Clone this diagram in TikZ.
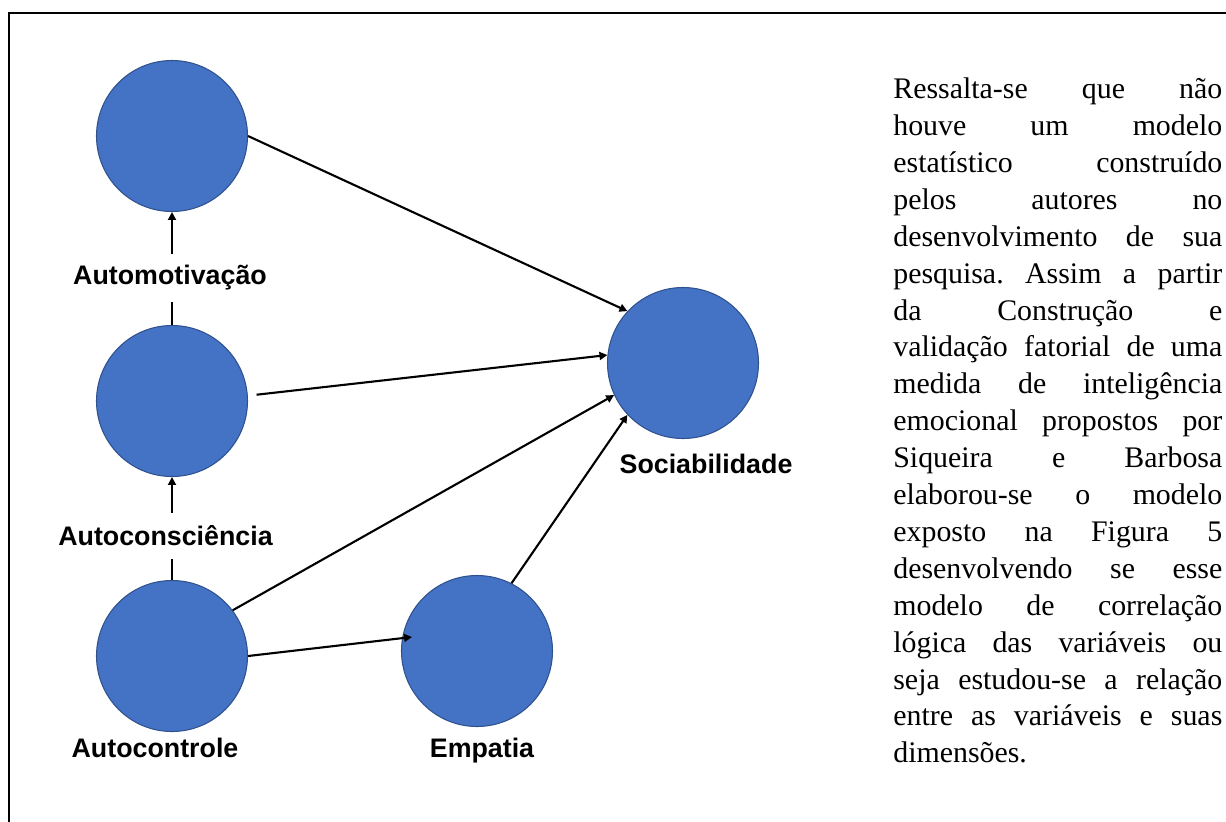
\documentclass[tikz,border=0pt]{standalone}
\usepackage{fontspec}
\setmainfont{Liberation Serif}
\setsansfont{Liberation Sans}
\usepackage{tikz}
\usetikzlibrary{arrows.meta}
\definecolor{CircleColor}{RGB}{68,114,196}
\definecolor{CircleBorder}{RGB}{47,82,143}

\begin{document}
\begin{tikzpicture}[>={Triangle[length=4.5pt,width=4.5pt]},
  var/.style={circle, fill=CircleColor, draw=CircleBorder, line width=0.6pt, minimum size=3.02cm, inner sep=0pt},
  lab/.style={font=\fontsize{15.25}{18}\selectfont\sffamily\bfseries, inner sep=0pt},
  link/.style={->, line width=1.2pt, black}]

  \useasboundingbox (0,0) rectangle (24.52,-16.42);
  \draw[line width=1.3pt] (0.18,-17) -- (0.18,-0.26) -- (25,-0.26);

  % circles
  \node[var] (motiv) at (3.44,-2.72) {};
  \node[var] (consc) at (3.44,-8.02) {};
  \node[var] (contr) at (3.44,-13.12) {};
  \node[var] (empat) at (9.54,-13.02) {};
  \node[var] (socia) at (13.66,-7.26) {};

  \node[lab, minimum height=0.96cm] (lmotiv) at (3.40,-5.56) {Automotivação};
  \node[lab, minimum height=0.92cm] (lconsc) at (3.31,-10.72) {Autoconsciência};
  \node[lab, anchor=base] (lcontr) at (3.10,-15.14) {Autocontrole};
  \node[lab, anchor=base] (lempat) at (9.64,-15.14) {Empatia};
  \node[lab, anchor=base] (lsocia) at (14.12,-9.46) {Sociabilidade};

  % vertical arrows
  \draw[line width=1.2pt] (consc.north) -- (consc.north |- lmotiv.south);
  \draw[link] (consc.north |- lmotiv.north) -- (motiv.south);
  \draw[line width=1.2pt] (contr.north) -- (contr.north |- lconsc.south);
  \draw[link] (contr.north |- lconsc.north) -- (consc.south);

  % arrows to Sociabilidade
  \draw[link] (motiv.east) -- (socia.137);
  \draw[link, shorten <=5pt] (consc.4) -- (socia.174);
  \draw[link] (contr.37) -- (socia.205);
  \draw[link] (contr.east) -- ([shift={(0.22,0.28)}]empat.west);
  \draw[link] (empat.63) -- (socia.223);

  \node[anchor=north west, inner sep=0pt] (texto) at (17.86,-1.55)
    {\parbox[t]{6.58cm}{\fontsize{17}{21}\selectfont\frenchspacing\tolerance=10000 \hbadness=10000
     Ressalta-se que não\linebreak houve um modelo\linebreak estatístico construído\linebreak
     pelos autores no\linebreak desenvolvimento de sua\linebreak pesquisa. Assim a partir\linebreak
     da Construção e\linebreak validação fatorial de uma\linebreak medida de inteligência\linebreak
     emocional propostos por\linebreak Siqueira e Barbosa\linebreak elaborou-se o modelo\linebreak
     exposto na Figura 5\linebreak desenvolvendo se esse\linebreak modelo de correlação\linebreak
     lógica das variáveis ou\linebreak seja estudou-se a relação\linebreak entre as variáveis e suas\linebreak
     dimensões.}};

\end{tikzpicture}
\end{document}
